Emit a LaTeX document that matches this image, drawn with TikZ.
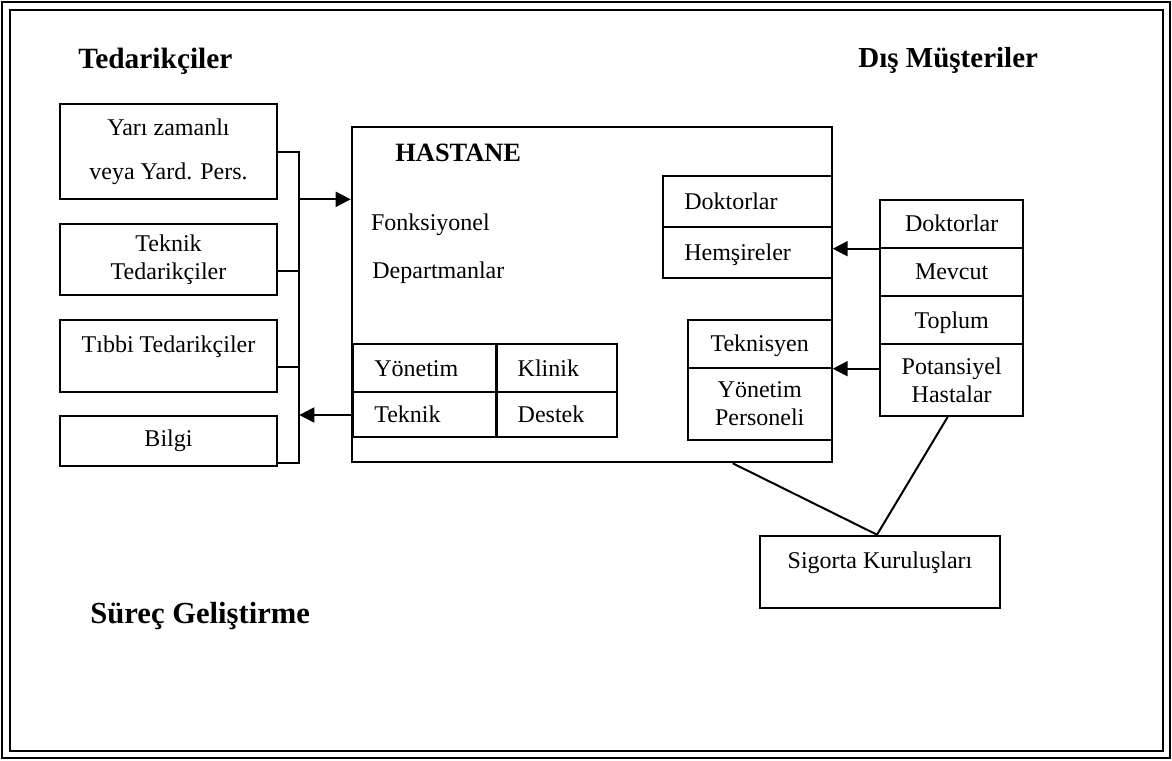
\documentclass[tikz,border=0pt]{standalone}
\usepackage{fontspec}
\setmainfont{Liberation Serif}
\usetikzlibrary{arrows.meta}

\begin{document}
\begin{tikzpicture}[x=0.5pt,y=-0.5pt,
  kutu/.style={draw,line width=1pt,inner sep=0pt,align=center,
    font=\fontsize{12}{14}\selectfont},
  hucre/.style={kutu,text height=8pt,text depth=0pt},
  sol/.style={hucre,align=left,inner xsep=10.5pt,text width=#1},
  baslik/.style={anchor=base west,inner sep=0pt,font=\fontsize{#1}{18}\selectfont\bfseries},
  yazi/.style={anchor=base west,inner sep=0pt,font=\fontsize{12}{14}\selectfont},
  ok/.style={line width=1pt,-{Triangle[length=7.5pt,width=7.5pt]}},
  cizgi/.style={line width=1pt}]
  \useasboundingbox (0,0) rectangle (1172,760);
  % cerceve
  \draw[line width=1.2pt] (2,2) rectangle (1170,758);
  \draw[line width=1.2pt] (10,10) rectangle (1163,751);

  % basliklar
  \node[baslik=14.7] (ted) at (78,68) {Tedarikçiler};
  \node[baslik=14.5] (dis) at (858,67) {Dış Müşteriler};
  \node[baslik=15.3] (surec) at (90,623) {Süreç Geliştirme};

  % tedarikciler
  \node[kutu,minimum width=108.5pt,minimum height=47.5pt] (b1) at (168.5,151.5)
    {Yarı zamanlı\\[8pt]veya Yard. Pers.};
  \node[kutu,minimum width=108.5pt,minimum height=35.5pt] (b2) at (168.5,259.5)
    {Teknik\\Tedarikçiler};
  \node[kutu,minimum width=108.5pt,minimum height=36pt,text height=8pt,text depth=11.3pt]
    (b3) at (168.5,356) {Tıbbi Tedarikçiler};
  \node[kutu,minimum width=108.5pt,minimum height=25pt] (b4) at (168.5,441) {Bilgi};

  % hastane
  \node[kutu,minimum width=240pt,minimum height=167.8pt] (hastane) at (591.7,294.5) {};
  \node[baslik=13.2] (hbas) at (395,161.7) {HASTANE};
  \node[yazi] (fonk) at (370.7,230.7) {Fonksiyonel};
  \node[yazi] (dep) at (372,278) {Departmanlar};

  \node[sol=63.2pt,minimum height=25.65pt] (dok) at (747.5,201.7) {Doktorlar};
  \node[sol=63.2pt,minimum height=25.5pt] (hem) at (747.5,252.8) {Hemşireler};

  \node[hucre,minimum width=72pt,minimum height=23.85pt] (tek) at (759.7,343.85) {Teknisyen};
  \node[kutu,minimum width=72pt,minimum height=36.15pt] (yper) at (759.7,403.85)
    {Yönetim\\Personeli};

  \node[sol=50.2pt,minimum height=24pt] (yon) at (424.5,368) {Yönetim};
  \node[sol=39pt,minimum height=24pt] (kli) at (556.7,368) {Klinik};
  \node[sol=50.2pt,minimum height=22.35pt] (tekn) at (424.5,414.35) {Teknik};
  \node[sol=39pt,minimum height=22.35pt] (des) at (556.7,414.35) {Destek};

  % dis musteriler
  \node[hucre,minimum width=71.65pt,minimum height=23.85pt] (r1) at (951.65,223.85) {Doktorlar};
  \node[hucre,minimum width=71.65pt,minimum height=24.15pt] (r2) at (951.65,271.85) {Mevcut};
  \node[hucre,minimum width=71.65pt,minimum height=24.15pt] (r3) at (951.65,320.15) {Toplum};
  \node[kutu,minimum width=71.65pt,minimum height=35.85pt] (r4) at (951.65,380.15)
    {Potansiyel\\Hastalar};

  \node[kutu,minimum width=120pt,minimum height=36.3pt,text height=8pt,text depth=12pt]
    (sig) at (880,572) {Sigorta Kuruluşları};

  % baglantilar
  \coordinate (kol) at (299.3,462.7);
  \draw[cizgi] (b1.east) -| (kol) -- (b4.east |- kol);
  \draw[cizgi] (b2.east |- 0,270.7) -- (kol |- 0,270.7);
  \draw[cizgi] (b3.east |- 0,366.7) -- (kol |- 0,366.7);
  \draw[ok] (kol |- 0,199.3) -- (hastane.west |- 0,199.3);
  \draw[ok] (hastane.west |- 0,415) -- (kol |- 0,415);
  \draw[ok] (r1.south west) -- (hastane.east |- r1.south west);
  \draw[ok] (r4.west |- tek.south) -- (tek.south east);
  \draw[cizgi] (hastane.south -| 732.7,0) -- ([xshift=-1.5pt]sig.north);
  \draw[cizgi] ([xshift=-2pt]r4.south) -- ([xshift=-1.5pt]sig.north);
\end{tikzpicture}
\end{document}
